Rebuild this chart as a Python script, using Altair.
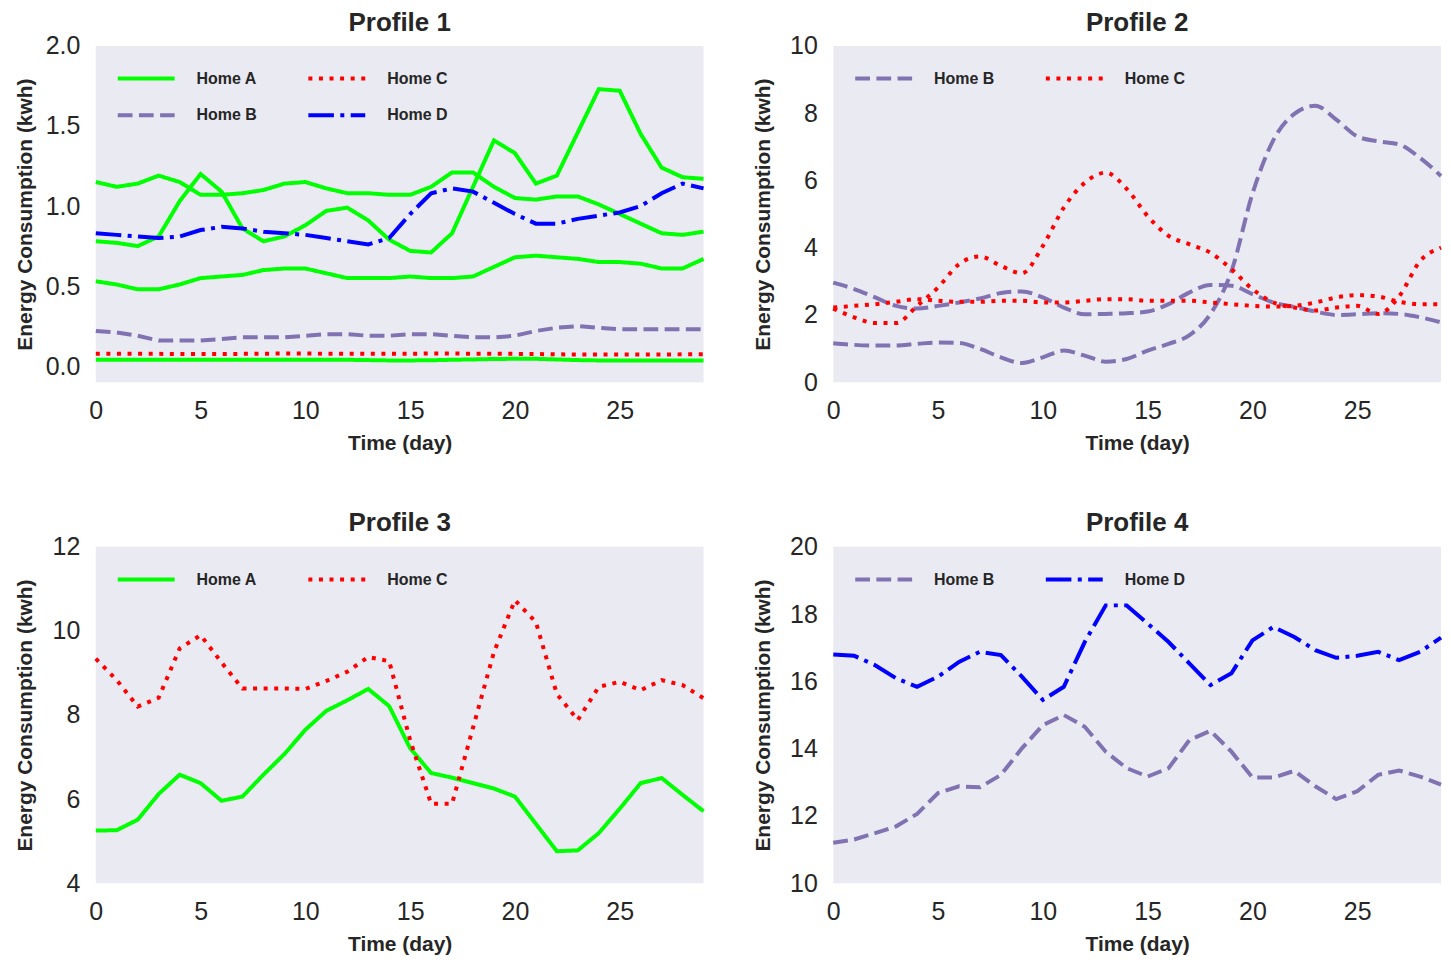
import altair as alt
import pandas as pd

days = list(range(30))

# ---- Profile 1 ----
p1_home_a = [
    [1.15, 1.12, 1.14, 1.19, 1.15, 1.07, 1.07, 1.08, 1.10, 1.14, 1.15, 1.11, 1.08, 1.08, 1.07,
     1.07, 1.12, 1.21, 1.21, 1.12, 1.05, 1.04, 1.06, 1.06, 1.01, 0.95, 0.89, 0.83, 0.82, 0.84],
    [0.78, 0.77, 0.75, 0.81, 1.03, 1.20, 1.09, 0.86, 0.78, 0.81, 0.88, 0.97, 0.99, 0.91, 0.79,
     0.72, 0.71, 0.83, 1.12, 1.41, 1.33, 1.14, 1.19, 1.46, 1.73, 1.72, 1.45, 1.24, 1.18, 1.17],
    [0.53, 0.51, 0.48, 0.48, 0.51, 0.55, 0.56, 0.57, 0.60, 0.61, 0.61, 0.58, 0.55, 0.55, 0.55,
     0.56, 0.55, 0.55, 0.56, 0.62, 0.68, 0.69, 0.68, 0.67, 0.65, 0.65, 0.64, 0.61, 0.61, 0.67],
    [0.040, 0.040, 0.040, 0.040, 0.040, 0.040, 0.040, 0.040, 0.040, 0.040, 0.040, 0.040, 0.040, 0.038, 0.036,
     0.036, 0.037, 0.040, 0.042, 0.045, 0.046, 0.046, 0.042, 0.038, 0.036, 0.036, 0.036, 0.036, 0.036, 0.036],
]
p1_home_b = [0.22, 0.21, 0.19, 0.16, 0.16, 0.16, 0.17, 0.18, 0.18, 0.18, 0.19, 0.20, 0.20, 0.19, 0.19,
             0.20, 0.20, 0.19, 0.18, 0.18, 0.19, 0.22, 0.24, 0.25, 0.24, 0.23, 0.23, 0.23, 0.23, 0.23]
p1_home_c = [0.078, 0.078, 0.077, 0.077, 0.076, 0.076, 0.076, 0.077, 0.078, 0.079, 0.079, 0.078, 0.078, 0.078, 0.078,
             0.078, 0.079, 0.079, 0.078, 0.078, 0.077, 0.076, 0.074, 0.073, 0.073, 0.073, 0.073, 0.073, 0.074, 0.074]
p1_home_d = [0.83, 0.82, 0.81, 0.80, 0.81, 0.85, 0.87, 0.86, 0.84, 0.83, 0.82, 0.80, 0.78, 0.76, 0.80,
             0.95, 1.08, 1.11, 1.09, 1.02, 0.95, 0.89, 0.89, 0.92, 0.94, 0.96, 1.00, 1.08, 1.14, 1.11]

# ---- Profile 2 ----
p2_home_b = [
    [2.96, 2.77, 2.52, 2.27, 2.19, 2.27, 2.37, 2.49, 2.65, 2.70, 2.52, 2.22, 2.02, 2.03, 2.05,
     2.10, 2.32, 2.67, 2.89, 2.87, 2.62, 2.37, 2.24, 2.10, 2.00, 2.02, 2.05, 2.03, 1.93, 1.78],
    [1.16, 1.11, 1.09, 1.09, 1.14, 1.18, 1.17, 0.99, 0.74, 0.57, 0.74, 0.94, 0.79, 0.61, 0.69,
     0.94, 1.14, 1.40, 2.03, 3.30, 5.60, 7.20, 7.98, 8.22, 7.81, 7.31, 7.16, 7.07, 6.67, 6.13],
]
p2_home_c = [
    [2.19, 1.93, 1.76, 1.76, 2.27, 2.82, 3.51, 3.74, 3.46, 3.24, 4.05, 5.19, 5.93, 6.23, 5.75,
     4.94, 4.35, 4.10, 3.85, 3.36, 2.77, 2.37, 2.22, 2.13, 2.22, 2.27, 2.03, 2.55, 3.60, 4.00],
    [2.22, 2.27, 2.32, 2.39, 2.47, 2.42, 2.39, 2.39, 2.42, 2.42, 2.37, 2.37, 2.42, 2.47, 2.47,
     2.42, 2.42, 2.42, 2.37, 2.32, 2.27, 2.25, 2.27, 2.37, 2.52, 2.59, 2.55, 2.39, 2.32, 2.32],
]

# ---- Profile 3 ----
p3_home_a = [5.25, 5.26, 5.51, 6.12, 6.58, 6.38, 5.96, 6.06, 6.58, 7.07, 7.65, 8.10, 8.35, 8.62, 8.21,
             7.21, 6.62, 6.51, 6.38, 6.25, 6.06, 5.41, 4.76, 4.78, 5.19, 5.77, 6.38, 6.50, 6.10, 5.71]
p3_home_c = [9.34, 8.83, 8.20, 8.41, 9.58, 9.90, 9.25, 8.63, 8.63, 8.63, 8.62, 8.81, 9.03, 9.38, 9.28,
             7.40, 5.89, 5.89, 7.70, 9.50, 10.73, 10.21, 8.50, 7.88, 8.67, 8.79, 8.59, 8.83, 8.71, 8.40]

# ---- Profile 4 ----
p4_home_b = [11.20, 11.30, 11.49, 11.69, 12.06, 12.68, 12.88, 12.85, 13.22, 14.01, 14.70, 15.00, 14.65, 13.91, 13.42,
             13.17, 13.42, 14.26, 14.53, 13.91, 13.14, 13.14, 13.34, 12.88, 12.50, 12.73, 13.22, 13.35, 13.17, 12.93]
p4_home_d = [16.80, 16.76, 16.48, 16.09, 15.84, 16.14, 16.58, 16.88, 16.78, 16.14, 15.45, 15.84, 17.17, 18.26, 18.26,
             17.72, 17.17, 16.53, 15.89, 16.24, 17.22, 17.62, 17.32, 16.93, 16.70, 16.76, 16.88, 16.63, 16.88, 17.30]

x_ticks = [0, 5, 10, 15, 20, 25]

home_color = {"Home A": "#00FF00", "Home B": "#8172B2", "Home C": "#FF0000", "Home D": "#0000FF"}
home_dash = {
    "Home A": [1, 0],
    "Home B": [14.8, 6.4],
    "Home C": [4, 6.6],
    "Home D": [25.6, 6.4, 4, 6.4],
}

# legend key: a horizontal stroke twice as long as sqrt(symbolSize)
legend_key = "M-2,0H2"


def frame(series):
    rows = []
    for home, sid, vals in series:
        for d, v in zip(days, vals):
            rows.append({"day": d, "kwh": v, "home": home, "series": sid})
    return pd.DataFrame(rows)


def panel(df, title, legend_order, y_domain, y_values, y_format, interp="linear"):
    legend = alt.Legend(
        orient="none", legendX=34, legendY=16, columns=2, title=None,
        symbolType=legend_key, symbolSize=812, symbolStrokeWidth=4,
        labelFont="Liberation Sans", labelFontSize=16, labelFontWeight="bold",
        labelColor="#262626", labelOffset=34, columnPadding=43, rowPadding=12,
        padding=0,
    )
    return alt.Chart(df, title=alt.Title(title)).mark_line(
        strokeWidth=4, interpolate=interp, strokeCap="butt"
    ).encode(
        x=alt.X("day:Q", scale=alt.Scale(domain=[0, 29], nice=False),
                axis=alt.Axis(values=x_ticks, title="Time (day)", format="d")),
        y=alt.Y("kwh:Q", scale=alt.Scale(domain=y_domain, nice=False, zero=False),
                axis=alt.Axis(values=y_values, title="Energy Consumption (kwh)", format=y_format)),
        color=alt.Color("home:N", legend=legend,
                        scale=alt.Scale(domain=legend_order, range=[home_color[h] for h in legend_order])),
        strokeDash=alt.StrokeDash("home:N", legend=legend,
                                  scale=alt.Scale(domain=legend_order, range=[home_dash[h] for h in legend_order])),
        detail="series:N",
    ).properties(width=609, height=337)


df1 = frame(
    [("Home A", f"a{i}", v) for i, v in enumerate(p1_home_a)]
    + [("Home B", "b0", p1_home_b), ("Home C", "c0", p1_home_c), ("Home D", "d0", p1_home_d)]
)
df2 = frame(
    [("Home B", f"b{i}", v) for i, v in enumerate(p2_home_b)]
    + [("Home C", f"c{i}", v) for i, v in enumerate(p2_home_c)]
)
df3 = frame([("Home A", "a0", p3_home_a), ("Home C", "c0", p3_home_c)])
df4 = frame([("Home B", "b0", p4_home_b), ("Home D", "d0", p4_home_d)])

c1 = panel(df1, "Profile 1", ["Home A", "Home B", "Home C", "Home D"], [-0.1, 2.0],
           [0.0, 0.5, 1.0, 1.5, 2.0], ".1f")
c2 = panel(df2, "Profile 2", ["Home B", "Home C"], [0, 10], [0, 2, 4, 6, 8, 10], "d", "monotone")
c3 = panel(df3, "Profile 3", ["Home A", "Home C"], [4, 12], [4, 6, 8, 10, 12], "d")
c4 = panel(df4, "Profile 4", ["Home B", "Home D"], [10, 20], [10, 12, 14, 16, 18, 20], "d")

chart = alt.concat(
    c1, c2, c3, c4, columns=2, spacing={"row": 165, "column": 130}, bounds="flush"
).resolve_scale(
    x="independent", y="independent", color="independent", strokeDash="independent"
).resolve_legend(
    color="independent", strokeDash="independent"
).properties(
    padding={"left": 15, "top": 8, "right": 2, "bottom": 2}
).configure_view(
    fill="#EAEAF2", stroke=None
).configure_axis(
    grid=False, domain=False, ticks=False,
    labelFont="Liberation Sans", labelFontSize=25, labelColor="#262626",
    labelPadding=16, labelFlush=False, labelOverlap=False,
    titleFont="Liberation Sans", titleFontSize=21, titleFontWeight="bold", titleColor="#262626",
).configure_axisY(
    minExtent=50, maxExtent=50, titlePadding=10
).configure_axisX(
    minExtent=43, maxExtent=43, titlePadding=7
).configure_title(
    font="Liberation Sans", fontSize=26, fontWeight="bold", color="#262626",
    offset=-1.6, baseline="alphabetic", anchor="middle", frame="group"
)

chart.save("out.html", embed_options={"renderer": "svg", "actions": False})
